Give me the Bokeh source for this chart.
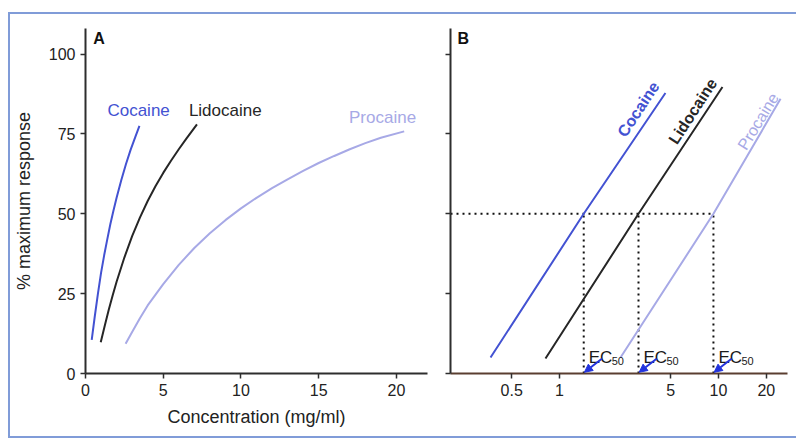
import numpy as np
from bokeh.plotting import figure
from bokeh.layouts import row
from bokeh.models import FixedTicker, Arrow, NormalHead, ColumnDataSource
from bokeh.core.properties import value
from bokeh.embed import file_html
from bokeh.resources import INLINE

# ---------------- data ----------------
# Panel A (linear concentration, mg/ml)
cocaine_x = [0.40, 0.6, 0.8, 1.0, 1.2, 1.4, 1.6, 1.8, 2.0, 2.3, 2.6, 2.9, 3.2, 3.47]
cocaine_y = [10.5, 18.0, 25.0, 31.5, 37.0, 42.0, 46.8, 51.0, 55.0, 60.5, 65.5, 70.0, 74.0, 77.5]
lidocaine_x = [0.98, 1.25, 1.5, 1.75, 2.0, 2.5, 3.0, 3.5, 4.0, 4.5, 5.0, 5.5, 6.0, 6.5, 7.17]
lidocaine_y = [9.8, 15.2, 20.0, 24.5, 28.7, 36.3, 43.0, 48.8, 54.0, 58.6, 62.8, 66.6, 70.2, 73.6, 78.0]
procaine_x = [2.58, 3.0, 3.5, 4.0, 5.0, 6.0, 7.0, 8.0, 9.0, 10.0, 11.0, 12.0, 13.0, 14.0,
              15.0, 16.0, 17.0, 18.0, 19.0, 20.5]
procaine_y = [9.3, 13.0, 17.3, 21.3, 28.0, 34.0, 39.3, 43.9, 48.0, 51.7, 55.0, 58.0, 60.8, 63.4,
              65.9, 68.1, 70.2, 72.1, 73.8, 75.8]

# Panel B (log concentration)
cocaine_bx = [0.368, 1.42, 4.64]
cocaine_by = [5.0, 50.0, 87.8]
lidocaine_bx = [0.816, 3.14, 10.6]
lidocaine_by = [4.7, 50.0, 89.7]
procaine_bx = [2.42, 9.3, 24.6]
procaine_by = [5.0, 50.0, 86.0]

drugs = ["Cocaine", "Lidocaine", "Procaine"]
ec50 = [1.42, 3.14, 9.3]
half_max = 50

y_ticks = [0, 25, 50, 75, 100]
xa_ticks = [0, 5, 10, 15, 20]
xb_ticks = [0.5, 1, 5, 10, 20]
xb_labels = ["0.5", "1", "5", "10", "20"]

# ---------------- style ----------------
FONT = "Liberation Sans"
C_COC = "#4352d2"
C_LID = "#262626"
C_PRO = "#a7a9e6"
C_ARROW = "#2233dd"
AX = "#2e2e2e"
colors = [C_COC, C_LID, C_PRO]


def style_axes(p):
    for ax in [p.xaxis[0], p.yaxis[0]]:
        ax.axis_line_color = AX
        ax.axis_line_width = 2
        ax.major_tick_line_color = AX
        ax.major_tick_line_width = 1.5
        ax.major_tick_out = 5
        ax.major_tick_in = 0
        ax.minor_tick_line_color = None
        ax.major_label_text_font = FONT
        ax.major_label_text_font_size = "16px"
        ax.major_label_text_color = "#222222"
        ax.axis_label_text_font = FONT
        ax.axis_label_text_font_style = "normal"
        ax.axis_label_text_font_size = "18px"
        ax.axis_label_text_color = "#222222"
    p.xgrid.visible = False
    p.ygrid.visible = False
    p.outline_line_color = None


# ---------------- Panel A ----------------
p1 = figure(width=427, height=422, x_range=(0, 22), y_range=(0, 108),
            output_backend="svg", toolbar_location=None,
            min_border_left=73, min_border_right=10,
            min_border_top=14, min_border_bottom=63)
style_axes(p1)
p1.xaxis.ticker = FixedTicker(ticks=xa_ticks)
p1.yaxis.ticker = FixedTicker(ticks=y_ticks)
p1.xaxis.axis_label = "Concentration (mg/ml)"
p1.yaxis.axis_label = "% maximum response"
p1.xaxis.axis_label_standoff = 8
p1.yaxis.axis_label_standoff = 12

p1.line(cocaine_x, cocaine_y, line_color=C_COC, line_width=2)
p1.line(lidocaine_x, lidocaine_y, line_color=C_LID, line_width=2)
p1.line(procaine_x, procaine_y, line_color=C_PRO, line_width=2)

p1.text(x=[1.41, 6.65], y=[82.2, 82.2], text=["Cocaine", "Lidocaine"],
        text_color=[C_COC, C_LID], text_font=value(FONT), text_font_size="17px",
        text_align="left", text_baseline="middle")
p1.text(x=[16.95], y=[80.0], text=["Procaine"], text_color=C_PRO,
        text_font=value(FONT), text_font_size="17px",
        text_align="left", text_baseline="middle")
p1.text(x=[0.5], y=[105], text=["A"], text_color="#111111",
        text_font=value(FONT), text_font_size="16px", text_font_style="bold",
        text_align="left", text_baseline="middle")

# ---------------- Panel B ----------------
p2 = figure(width=359, height=422, x_axis_type="log",
            x_range=(0.206, 27.2), y_range=(0, 108),
            output_backend="svg", toolbar_location=None,
            min_border_left=13, min_border_right=9,
            min_border_top=14, min_border_bottom=63)
style_axes(p2)
p2.xaxis.ticker = FixedTicker(ticks=xb_ticks)
p2.xaxis.major_label_overrides = {t: l for t, l in zip(xb_ticks, xb_labels)}
p2.yaxis.ticker = FixedTicker(ticks=y_ticks)
p2.yaxis.major_label_overrides = {t: "" for t in y_ticks}
p2.yaxis.major_label_standoff = 0
p2.xaxis.axis_line_color = "#5a3e30"

# dotted guide lines at 50 %
p2.segment(x0=[p2.x_range.start], y0=[half_max], x1=[max(ec50)], y1=[half_max],
           line_color="#111111", line_width=2, line_dash="2 4")
p2.segment(x0=ec50, y0=[0] * 3, x1=ec50, y1=[half_max] * 3,
           line_color="#111111", line_width=2, line_dash="2 4")

for bx, by, c in [(cocaine_bx, cocaine_by, C_COC), (lidocaine_bx, lidocaine_by, C_LID),
                  (procaine_bx, procaine_by, C_PRO)]:
    p2.line(bx, by, line_color=c, line_width=2)

# rotated labels along the lines
lab_x = [3.69, 8.13, 21.0]
lab_y = [80.4, 79.8, 76.7]
lab_ang = [np.deg2rad(56.6), np.deg2rad(57.0), np.deg2rad(58.4)]
d = 13.5
offx = [-np.sin(a) * d for a in lab_ang]
offy = [-np.cos(a) * d for a in lab_ang]
src = ColumnDataSource(dict(x=lab_x, y=lab_y, t=drugs, a=lab_ang, c=colors,
                            ox=offx, oy=offy,
                            s=["bold", "bold", "normal"]))
p2.text(x="x", y="y", text="t", angle="a", text_color="c", x_offset="ox", y_offset="oy",
        text_font=value(FONT), text_font_size="16px", text_font_style="s",
        text_align="center", text_baseline="middle", source=src)

# EC50 labels and arrows
p2.text(x=ec50, y=[5] * 3, text=["EC"] * 3, x_offset=5, text_color="#1a1a1a",
        text_font=value(FONT), text_font_size="17px",
        text_align="left", text_baseline="alphabetic")
p2.text(x=ec50, y=[5] * 3, text=["50"] * 3, x_offset=28, y_offset=3, text_color="#1a1a1a",
        text_font=value(FONT), text_font_size="11px",
        text_align="left", text_baseline="alphabetic")
for e in ec50:
    p2.add_layout(Arrow(x_start=e * 1.30, y_start=4.6, x_end=e * 1.01, y_end=0.4,
                        line_color=C_ARROW, line_width=2,
                        end=NormalHead(size=8, fill_color=C_ARROW, line_color=C_ARROW)))

p2.text(x=[0.228], y=[105], text=["B"], text_color="#111111",
        text_font=value(FONT), text_font_size="16px", text_font_style="bold",
        text_align="left", text_baseline="middle")

border = "2px solid #809cd8"
layout = row(p1, p2, styles={"border-top": border, "border-left": border,
                             "border-bottom": border, "border-right": "none",
                             "margin-top": "12px", "margin-left": "8px"})

open("out.html", "w").write(file_html(layout, INLINE))
